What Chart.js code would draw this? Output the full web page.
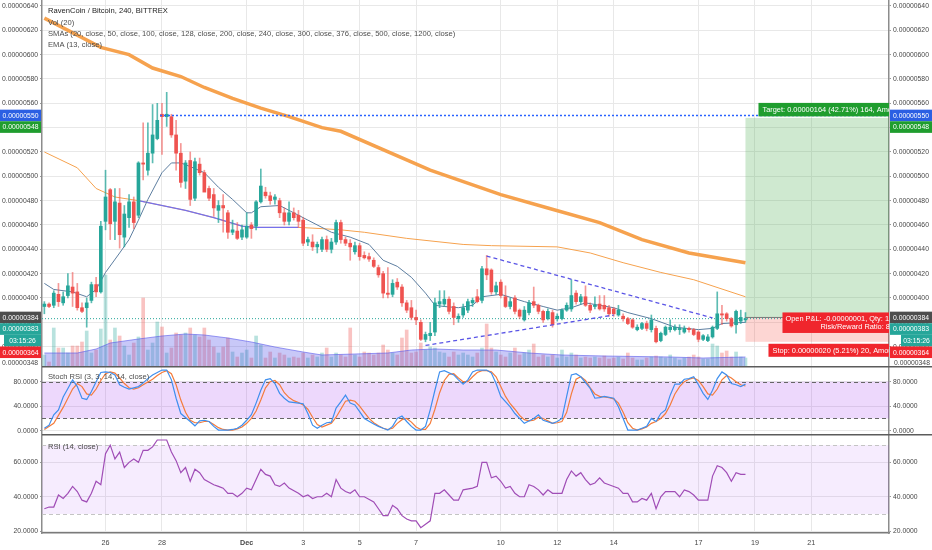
<!DOCTYPE html>
<html>
<head>
<meta charset="utf-8">
<title>RavenCoin / Bitcoin, 240</title>
<script src="https://cdn.jsdelivr.net/npm/chart.js@4.4.1/dist/chart.umd.min.js"></script>
<style>
  html, body { margin: 0; padding: 0; background: #ffffff; }
  #wrap { position: relative; width: 932px; height: 550px; overflow: hidden; }
  #wrap canvas { position: absolute; left: 0; }
  #mainChart { top: 0; }
  #stochChart { top: 366px; }
  #rsiChart { top: 434px; }
</style>
</head>
<body>
<div id="wrap">
  <canvas id="mainChart" width="932" height="366"></canvas>
  <canvas id="stochChart" width="932" height="68"></canvas>
  <canvas id="rsiChart" width="932" height="116"></canvas>
</div>
<script>
// prices are in satoshi (1e-8 BTC), one slot per 4h candle
const slotCount = 180;

const openP = [393,395,394,403,396,402,409,405,392,392, 398,411,405,463,489,463,478,450,466,479,
  468,511,505,519,531,551,549,549,534,519, 496,513,482,510,503,490,485,472,476,470,
  454,455,450,450,460,459,479,487,484,481, 480,470,463,470,468,464,446,446,442,440,
  448,440,446,462,448,445,438,443,435,434, 431,425,420,404,403,413,409,396,392,384,
  380,366,369,372,395,395,399,393,383,386, 390,396,401,398,424,423,405,413,401,393,
  400,390,382,388,397,394,389,383,388,383, 383,390,391,404,397,401,394,393,395,394,
  392,391,386,385,383,382,374,375,379,374, 375,365,370,374,374,374,372,375,374,372,
  366,365,368,375,387,387,383,378,381,382];
const highP = [397,396,406,412,405,420,421,412,396,400, 413,417,463,505,490,490,490,476,485,483,
  512,544,544,559,560,560,569,551,546,527, 513,520,515,515,505,492,490,480,485,472,
  464,462,460,470,462,480,506,491,487,485, 482,474,479,474,472,466,450,452,446,450,
  451,449,464,464,450,448,446,445,438,437, 433,427,422,425,415,416,411,398,398,390,
  382,372,380,400,406,406,401,396,387,395, 399,400,407,426,435,424,413,415,410,400,
  402,391,393,398,409,395,390,391,390,387, 391,396,415,406,403,410,396,401,402,402,
  394,392,394,387,384,383,378,380,381,386, 377,372,377,382,378,378,377,376,375,373,
  370,370,377,405,394,388,384,390,390,388];
const lowP = [387,392,392,393,394,400,393,390,388,376, 396,401,404,456,448,448,441,442,458,457,
  466,497,501,511,530,518,541,532,505,491, 490,476,480,501,490,480,467,462,454,449,
  452,448,448,449,449,456,478,482,477,477, 466,460,460,464,458,443,443,439,437,438,
  438,437,444,445,443,431,436,431,432,430, 425,417,400,400,401,407,393,388,382,378,
  365,364,365,369,392,393,387,378,380,384, 388,393,396,396,415,403,403,400,392,391,
  387,383,381,386,392,387,380,382,376,381, 382,389,389,395,395,393,388,391,390,389,
  385,385,385,381,378,375,373,374,373,372, 363,364,369,372,373,370,371,372,369,364,
  365,364,367,374,378,381,376,371,379,380];
const closeP = [395,393,404,397,401,410,404,392,389,396, 411,405,459,483,461,479,452,469,479,462,
  511,510,519,534,546,549,551,534,519,495, 511,481,512,503,487,482,474,476,474,454,
  456,449,456,459,457,479,492,484,480,483, 470,463,470,466,463,445,448,442,444,448,
  440,446,462,448,445,442,443,434,433,432, 426,419,404,403,412,409,396,390,384,382,
  366,370,371,396,397,399,389,384,385,392, 397,398,397,424,419,405,410,402,393,397,
  389,385,390,396,394,389,382,389,378,385, 390,394,402,397,401,394,390,394,391,391,
  387,387,390,383,379,376,376,379,375,382, 364,371,376,376,376,375,375,374,370,366,
  369,368,376,387,386,383,377,389,384,383];
const volume = [11,4,38,18,18,13,20,20,24,35, 13,16,37,91,26,38,30,20,11,23,
  29,68,16,23,44,39,13,18,33,31, 33,38,31,29,38,26,19,13,19,28,
  14,9,13,16,8,30,21,8,14,8, 13,11,8,9,8,13,8,11,9,13,
  18,9,13,11,9,38,11,9,14,13, 11,13,21,16,13,11,28,36,13,14,
  23,16,19,18,14,13,9,14,11,13, 11,9,13,18,42,18,14,11,9,13,
  18,11,13,16,22,9,11,9,11,8, 16,9,13,11,8,9,8,9,8,10,
  7,8,9,7,13,8,6,6,8,9, 10,9,8,11,8,6,8,9,11,9,
  7,7,22,20,13,15,9,14,9,8];

// indicator readings as [slot, value]
const volMaPts = [[0,13],[7,13],[11,17],[14,23],[20,27],[25,30],[30,32],[34,31],[39,28],[44,24],[49,19],
  [55,14],[59,11],[66,12],[73,13],[78,16],[83,17],[89,16],[96,16],[103,13],[110,11],[119,10],[133,9],[140,8],[149,9]];
const smaSlowPts = [[0,630],[12,606],[18,600],[23,589],[29,582],[34,573],[40,564],[46,556],[52,549],[59,540],
  [63,537],[82,505],[97,485],[107,474],[118,462],[127,448],[137,437],[149,429]];
const smaMidPts = [[0,520],[7,507],[11,490],[15,483],[20,480],[30,472],[36,466],[42,459],[45,458],[54,458],
  [59,457],[63,456],[68,454],[77,449],[89,444],[95,443],[109,442],[116,437],[123,429],[131,421],[138,415],[149,401]];
const smaBluePts = [[20,480],[30,472],[36,466],[42,459],[45,458],[54,458]];
const emaPts = [[0,412],[2,407],[6,405],[9,401],[11,407],[13,421],[16,437],[18,448],[20,464],[22,481],[25,503],
  [27,511],[29,511],[31,508],[34,503],[37,491],[40,481],[43,470],[44,470],[46,475],[50,476],[52,472],[56,464],
  [61,454],[65,450],[69,444],[72,431],[75,426],[78,417],[81,404],[83,394],[85,393],[88,392],[91,394],[93,401],
  [97,403],[102,397],[106,393],[109,390],[112,392],[115,396],[118,394],[121,392],[124,388],[129,383],[134,376],
  [139,374],[142,375],[144,379],[149,380]];
const trendUpper = [[94,434.5],[142,383.6]];
const trendLower = [[81,361],[121,386]];

const stochK = [[0,4],[1,9],[2,26],[3,34],[4,55],[5,69],[6,83],[7,72],[8,53],[9,51],[10,64],[11,80],[12,95],[13,96],
  [14,95],[15,91],[16,75],[17,71],[18,68],[20,72],[21,78],[22,85],[23,91],[24,95],[25,99],[26,99],[27,83],[28,53],
  [29,28],[31,15],[32,8],[33,16],[34,17],[35,15],[36,7],[37,1],[38,1],[39,1],[40,2],[41,4],[42,9],[43,17],[44,26],
  [45,45],[46,66],[47,83],[48,85],[49,77],[50,61],[51,53],[52,47],[54,45],[55,44],[56,28],[57,9],[58,4],[59,9],
  [60,13],[61,14],[62,37],[63,47],[64,58],[65,45],[66,42],[67,31],[68,20],[70,11],[71,7],[72,4],[73,1],[74,7],
  [75,20],[76,24],[77,15],[78,7],[79,1],[80,1],[81,7],[82,34],[83,66],[84,96],[85,98],[87,91],[88,83],[89,76],
  [90,83],[91,96],[92,99],[94,99],[95,94],[96,77],[97,56],[99,39],[100,28],[102,12],[104,20],[105,26],[106,17],
  [108,12],[109,15],[110,20],[111,56],[112,91],[113,93],[114,88],[116,69],[117,53],[118,54],[119,56],[121,53],
  [122,39],[123,20],[124,1],[125,1],[126,1],[127,4],[128,7],[129,20],[130,15],[131,28],[132,34],[133,58],[134,76],
  [135,76],[136,84],[137,85],[138,88],[139,75],[140,61],[141,51],[142,66],[143,85],[144,96],[145,91],[146,77],
  [147,75],[148,72],[149,76]];
const stochD = [[0,2],[2,12],[4,38],[6,68],[7,77],[8,72],[9,60],[10,58],[11,68],[12,82],[13,93],[14,96],[15,94],
  [16,86],[17,77],[18,70],[19,68],[20,70],[21,75],[23,84],[24,90],[25,95],[26,98],[27,93],[28,75],[29,50],[30,30],
  [31,17],[32,13],[33,13],[34,15],[35,15],[36,10],[37,5],[38,2],[39,1],[40,1],[41,3],[42,6],[43,12],[44,20],[45,32],
  [46,50],[47,70],[48,80],[49,82],[50,75],[51,62],[52,54],[53,49],[54,46],[55,42],[56,35],[57,22],[58,10],[59,6],
  [60,9],[61,12],[62,22],[63,35],[64,48],[65,50],[66,48],[67,40],[68,30],[69,20],[70,13],[71,8],[72,4],[73,2],
  [74,4],[75,12],[76,18],[77,20],[78,14],[79,6],[80,2],[81,2],[82,12],[83,35],[84,62],[85,82],[86,92],[87,93],
  [88,86],[89,80],[90,80],[91,88],[92,95],[93,98],[94,98],[95,96],[96,88],[97,72],[98,56],[99,44],[100,35],
  [101,25],[102,18],[103,16],[104,17],[105,22],[106,20],[107,16],[108,12],[109,13],[110,15],[111,30],[112,60],
  [113,84],[114,88],[115,82],[116,70],[117,60],[118,56],[119,55],[120,54],[121,52],[122,45],[123,30],[124,13],
  [125,4],[126,1],[127,3],[128,6],[129,12],[130,15],[131,20],[132,28],[133,42],[134,60],[135,72],[136,80],
  [137,84],[138,86],[139,82],[140,72],[141,60],[142,58],[143,68],[144,83],[145,90],[146,86],[147,80],[148,75],[149,73]];
const rsiPts = [[0,33],[1,34],[2,34],[3,41],[4,39],[5,42],[6,46],[7,43],[8,38],[9,37],[10,42],[11,49],[12,47],
  [13,65],[14,70],[15,62],[16,66],[17,57],[18,60],[19,62],[20,60],[21,67],[22,67],[23,69],[24,73],[25,73],[26,73],
  [27,66],[28,61],[29,54],[30,57],[31,49],[32,56],[33,54],[34,50],[36,47],[37,46],[38,45],[39,42],[40,42],[41,40],
  [42,42],[43,45],[44,44],[45,50],[46,56],[47,53],[48,52],[49,47],[50,46],[51,48],[52,45],[54,42],[55,40],[56,41],
  [57,39],[58,40],[59,40],[60,42],[61,40],[62,50],[63,45],[64,43],[65,42],[66,44],[67,40],[68,40],[70,37],[71,33],
  [72,29],[73,29],[74,35],[75,33],[76,29],[77,27],[78,26],[79,26],[80,22],[81,24],[82,26],[83,42],[84,42],[85,44],
  [86,41],[87,38],[88,38],[89,44],[91,45],[92,46],[93,60],[94,60],[95,51],[96,52],[97,49],[98,45],[99,46],[100,42],
  [101,40],[102,40],[103,47],[104,46],[105,44],[106,41],[107,44],[108,42],[109,42],[110,42],[111,50],[112,55],
  [113,52],[114,54],[115,50],[116,47],[117,48],[118,51],[119,48],[120,47],[122,45],[123,42],[124,42],[125,37],
  [126,37],[127,39],[128,38],[129,42],[130,33],[131,40],[132,43],[133,43],[134,43],[135,40],[136,44],[137,43],
  [138,41],[139,38],[140,38],[141,38],[142,52],[143,58],[144,57],[145,54],[146,49],[147,54],[148,53],[149,53]];

const dayIdx = [13, 25, 43, 55, 67, 79, 97, 109, 121, 139, 151, 163];
const dayLbl = ['26', '28', 'Dec', '3', '5', '7', '10', '12', '14', '17', '19', '21'];
const priceTicks = [360, 380, 400, 420, 440, 460, 480, 500, 520, 540, 560, 580, 600, 620, 640];
const stochTicks = [0, 40, 80];
const rsiTicks = [20, 40, 60];

// long position tool and alert
const entryPrice = 384, targetPrice = 548, stopPrice = 364, lastClose = 383;
const alertLevel = 550, rangeLow = 348;
const alertStart = 25, positionStart = 149;

const FONT = '"Liberation Sans", Arial, sans-serif';
const GRID = '#e8e8e8';
const UP = '#26a69a', DOWN = '#ef5350';

const labels = Array.from({ length: slotCount }, (_, i) => String(i));

function sparse(pairs) {
    const arr = new Array(slotCount).fill(null);
    pairs.forEach(function(p) { arr[p[0]] = p[1]; });
    return arr;
}

function fmt(v) {
    return (v * 1e-8).toFixed(8);
}

const isUp = closeP.map((c, i) => c >= openP[i]);
const bodyData = openP.map((o, i) => [o, closeP[i]]);
const wickData = lowP.map((l, i) => [l, highP[i]]);

function yAxis(pos, min, max, ticks, cb, grid) {
    return {
        position: pos,
        min: min,
        max: max,
        bounds: 'data',
        afterBuildTicks: function(ax) { ax.ticks = ticks.map(v => ({ value: v })); },
        afterFit: function(s) { s.width = pos === 'left' ? 42 : 43; s.paddingTop = 0; s.paddingBottom = 0; },
        grid: { drawOnChartArea: grid, color: GRID, tickLength: 2, tickColor: '#999' },
        border: { color: '#8c8c8c', width: 1.5 },
        ticks: { autoSkip: false, padding: 2, color: '#474747', font: { family: FONT, size: 6.8 }, callback: cb }
    };
}

function xAxis(showLabels) {
    return {
        type: 'category',
        offset: true,
        afterBuildTicks: function(ax) { ax.ticks = dayIdx.map(v => ({ value: v })); },
        afterFit: function(s) { s.height = showLabels ? 17 : 0; s.paddingLeft = 0; s.paddingRight = 0; },
        grid: { offset: false, color: GRID, drawTicks: false },
        border: showLabels ? { color: '#7a7a7a', width: 1.5 } : { display: false },
        ticks: {
            display: showLabels,
            autoSkip: false,
            maxRotation: 0,
            padding: 6,
            color: '#474747',
            font: function(ctx) {
                return { family: FONT, size: 7.2, weight: dayLbl[ctx.index] === 'Dec' ? 'bold' : 'normal' };
            },
            callback: function(v) { return dayLbl[dayIdx.indexOf(v)]; }
        }
    };
}

function lineSet(label, pairs, color, width, order, extra) {
    return Object.assign({
        type: 'line', label: label, data: sparse(pairs), yAxisID: 'y',
        borderColor: color, borderWidth: width, pointRadius: 0, spanGaps: true, fill: false, order: order
    }, extra || {});
}

const baseOptions = {
    responsive: false,
    animation: false,
    events: [],
    layout: { padding: 0 },
    plugins: { legend: { display: false }, tooltip: { enabled: false } }
};

function hLine(ctx, x0, x1, y, color, width, dash) {
    ctx.save();
    ctx.strokeStyle = color;
    ctx.lineWidth = width;
    ctx.setLineDash(dash || []);
    ctx.beginPath();
    ctx.moveTo(x0, y);
    ctx.lineTo(x1, y);
    ctx.stroke();
    ctx.restore();
}

function box(ctx, x, y, w, h, bg, text, align, tx) {
    ctx.fillStyle = bg;
    ctx.fillRect(x, y, w, h);
    ctx.fillStyle = '#ffffff';
    ctx.textAlign = align;
    ctx.fillText(text, tx, y + h / 2 + 0.5);
}

const mainDecor = {
    id: 'mainDecor',
    beforeDatasetsDraw(chart) {
        const { ctx, chartArea: a, scales: { x, y } } = chart;
        const xs = x.getPixelForValue(positionStart);
        const yT = y.getPixelForValue(targetPrice);
        const yE = y.getPixelForValue(entryPrice);
        const yS = y.getPixelForValue(stopPrice);
        ctx.save();
        ctx.fillStyle = 'rgba(76,175,80,0.27)';
        ctx.fillRect(xs, yT, a.right - xs, yE - yT);
        ctx.fillStyle = 'rgba(244,67,54,0.22)';
        ctx.fillRect(xs, yE, a.right - xs, yS - yE);
        ctx.restore();
        hLine(ctx, a.left, a.right, y.getPixelForValue(lastClose), UP, 1, [1, 2]);
    },
    afterDatasetsDraw(chart) {
        const { ctx, chartArea: a, scales: { x, y } } = chart;
        const xs = x.getPixelForValue(positionStart);
        const yT = y.getPixelForValue(targetPrice);
        const yE = y.getPixelForValue(entryPrice);
        const yS = y.getPixelForValue(stopPrice);

        hLine(ctx, x.getPixelForValue(alertStart) - 2, a.right, y.getPixelForValue(alertLevel), '#2962ff', 1.5, [2, 2]);
        hLine(ctx, xs, a.right, yE, '#777777', 1);

        ctx.save();
        ctx.beginPath();
        ctx.rect(a.left, a.top, a.width, a.height);
        ctx.clip();
        ctx.font = '7.4px ' + FONT;
        ctx.textBaseline = 'middle';
        box(ctx, xs + 13, yT - 15, 200, 13.5, '#1f9d2e', 'Target: 0.00000164 (42.71%) 164, Amount: 0.00016400', 'left', xs + 17);
        box(ctx, xs + 23, yS + 2, 200, 13, '#f0262d', 'Stop: 0.00000020 (5.21%) 20, Amount: 0.00002000', 'left', xs + 27);
        ctx.fillStyle = '#f0262d';
        ctx.fillRect(xs + 37, yE - 5, 200, 20.5);
        ctx.fillStyle = '#ffffff';
        ctx.textAlign = 'left';
        ctx.fillText('Open P&L: -0.00000001, Qty: 100', xs + 40, yE + 1.5);
        ctx.fillText('Risk/Reward Ratio: 8.2', xs + 75, yE + 10);
        ctx.restore();

        // indicator legend
        ctx.save();
        ctx.textBaseline = 'middle';
        ctx.textAlign = 'left';
        ctx.font = '7.6px ' + FONT;
        ctx.fillStyle = '#222222';
        ctx.fillText('RavenCoin / Bitcoin, 240, BITTREX', a.left + 6, 11);
        ctx.fillStyle = '#4d4d4d';
        ctx.fillText('Vol (20)', a.left + 6, 23);
        ctx.fillText('SMAs (20, close, 50, close, 100, close, 128, close, 200, close, 240, close, 300, close, 376, close, 500, close, 1200, close)', a.left + 6, 34);
        ctx.fillText('EMA (13, close)', a.left + 6, 45);
        ctx.restore();
    },
    afterDraw(chart) {
        const { ctx, chartArea: a, scales: { y } } = chart;
        const items = [
            { v: alertLevel, text: fmt(alertLevel), bg: '#2b5fe3' },
            { v: targetPrice, text: fmt(targetPrice), bg: '#1f9d2e' },
            { v: entryPrice, text: fmt(entryPrice), bg: '#4d4d4d' },
            { v: lastClose, text: fmt(lastClose), bg: UP },
            { v: lastClose, text: '03:15:26', bg: UP, short: true },
            { v: stopPrice, text: fmt(stopPrice), bg: '#f0262d' }
        ];
        const h = 11.6;
        let prevBottom = -Infinity;
        ctx.save();
        ctx.font = '6.8px ' + FONT;
        ctx.textBaseline = 'middle';
        items.forEach(function(m) {
            const top = Math.max(y.getPixelForValue(m.v) - h / 2, prevBottom);
            prevBottom = top + h;
            const lx = m.short ? 4 : 0;
            const rx = m.short ? 901 : a.right + 1;
            box(ctx, lx, top, a.left - 1 - lx, h, m.bg, m.text, 'center', (lx + a.left - 1) / 2);
            box(ctx, rx, top, chart.width - rx, h, m.bg, m.text, 'center', (rx + chart.width) / 2);
        });
        ctx.fillStyle = '#474747';
        ctx.textAlign = 'right';
        ctx.fillText(fmt(rangeLow), a.left - 4, 363);
        ctx.textAlign = 'left';
        ctx.fillText(fmt(rangeLow), a.right + 5, 363);
        ctx.restore();
    }
};

new Chart(document.getElementById('mainChart'), {
    type: 'bar',
    data: {
        labels: labels,
        datasets: [
            lineSet('trend upper', trendUpper, '#5a55e6', 1.3, 1, { borderDash: [4, 3] }),
            lineSet('trend lower', trendLower, '#5a55e6', 1.3, 1, { borderDash: [4, 3] }),
            {
                label: 'body', data: bodyData, yAxisID: 'y', grouped: false, barThickness: 3, order: 2,
                backgroundColor: isUp.map(u => u ? UP : DOWN)
            },
            {
                label: 'wick', data: wickData, yAxisID: 'y', grouped: false, barThickness: 1, order: 3,
                backgroundColor: isUp.map(u => u ? 'rgba(38,166,154,0.75)' : 'rgba(239,83,80,0.6)')
            },
            lineSet('EMA 13', emaPts, '#5d7ea0', 1, 4),
            lineSet('SMA slow', smaSlowPts, '#f6a24e', 3.5, 5),
            lineSet('SMA blue', smaBluePts, '#7571ec', 1.2, 6),
            lineSet('SMA mid', smaMidPts, '#f6a24e', 1, 7),
            lineSet('Vol MA', volMaPts, 'rgba(88,88,235,0.6)', 1, 8, {
                yAxisID: 'yV', fill: 'origin', backgroundColor: 'rgba(88,88,235,0.33)'
            }),
            {
                label: 'Volume', data: volume, yAxisID: 'yV', grouped: false, barThickness: 3, order: 9,
                backgroundColor: isUp.map(u => u ? 'rgba(38,166,154,0.33)' : 'rgba(239,83,80,0.35)')
            }
        ]
    },
    options: Object.assign({}, baseOptions, {
        scales: {
            x: xAxis(false),
            y: yAxis('right', 344.1, 644.9, priceTicks, fmt, true),
            yL: yAxis('left', 344.1, 644.9, priceTicks, fmt, false),
            yV: { display: false, min: 0, max: 366 }
        }
    }),
    plugins: [mainDecor]
});

function paneDecor(lo, hi, fill, dashColor, title, titleY) {
    return {
        id: 'paneDecor',
        beforeDatasetsDraw(chart) {
            const { ctx, chartArea: a, scales: { y } } = chart;
            const y1 = y.getPixelForValue(hi), y2 = y.getPixelForValue(lo);
            ctx.save();
            ctx.fillStyle = fill;
            ctx.fillRect(a.left, y1, a.width, y2 - y1);
            ctx.restore();
            hLine(ctx, a.left, a.right, Math.round(y1) + 0.5, dashColor, 1, [4, 3]);
            hLine(ctx, a.left, a.right, Math.round(y2) + 0.5, dashColor, 1, [4, 3]);
        },
        afterDraw(chart) {
            const { ctx, chartArea: a } = chart;
            hLine(ctx, a.left, chart.width, 0.75, '#5c5c5c', 1.5);
            ctx.save();
            ctx.font = '7.6px ' + FONT;
            ctx.fillStyle = '#4d4d4d';
            ctx.textBaseline = 'middle';
            ctx.textAlign = 'left';
            ctx.fillText(title, a.left + 6, titleY);
            ctx.restore();
        }
    };
}

function osc(v) {
    return v.toFixed(4);
}

new Chart(document.getElementById('stochChart'), {
    type: 'line',
    data: {
        labels: labels,
        datasets: [
            lineSet('%K', stochK, '#3f8fee', 1.2, 1),
            lineSet('%D', stochD, '#f47c3c', 1.2, 2)
        ]
    },
    options: Object.assign({}, baseOptions, {
        scales: {
            x: xAxis(false),
            y: yAxis('right', -5.4, 105.6, stochTicks, osc, true),
            yL: yAxis('left', -5.4, 105.6, stochTicks, osc, false)
        }
    }),
    plugins: [paneDecor(20, 80, 'rgba(156,39,240,0.18)', '#666666', 'Stoch RSI (3, 3, 14, 14, close)', 11)]
});

new Chart(document.getElementById('rsiChart'), {
    type: 'line',
    data: {
        labels: labels,
        datasets: [
            lineSet('RSI', rsiPts, '#a04db6', 1.2, 1)
        ]
    },
    options: Object.assign({}, baseOptions, {
        scales: {
            x: xAxis(true),
            y: yAxis('right', 18.9, 76.5, rsiTicks, osc, true),
            yL: yAxis('left', 18.9, 76.5, rsiTicks, osc, false)
        }
    }),
    plugins: [paneDecor(30, 70, 'rgba(156,39,240,0.09)', '#c4c4c4', 'RSI (14, close)', 12.5)]
});
</script>
</body>
</html>
